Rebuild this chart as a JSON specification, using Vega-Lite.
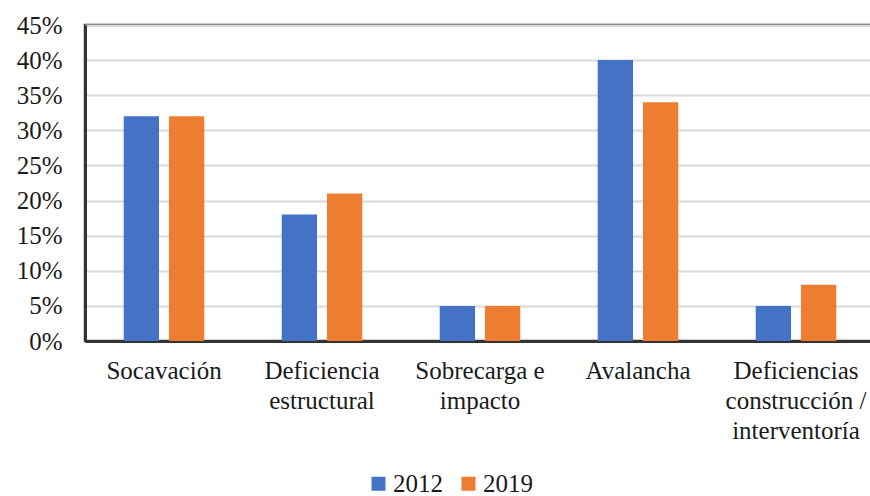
{
  "$schema": "https://vega.github.io/schema/vega-lite/v6.json",
  "autosize": {"type": "none"},
  "padding": {"left": 85, "top": 25, "right": 0, "bottom": 155},
  "width": 790,
  "height": 316,
  "background": "white",
  "config": {
    "font": "Liberation Serif, Times New Roman, serif",
    "view": {"stroke": "#404040", "strokeWidth": 2.5},
    "axis": {"labelFont": "Liberation Serif, Times New Roman, serif", "labelColor": "#1a1a1a"},
    "legend": {"labelFont": "Liberation Serif, Times New Roman, serif"}
  },
  "data": {
    "values": [
      {"causa": "Socavación", "anio": "2012", "valor": 0.32},
      {"causa": "Socavación", "anio": "2019", "valor": 0.32},
      {"causa": "Deficiencia estructural", "anio": "2012", "valor": 0.18},
      {"causa": "Deficiencia estructural", "anio": "2019", "valor": 0.21},
      {"causa": "Sobrecarga e impacto", "anio": "2012", "valor": 0.05},
      {"causa": "Sobrecarga e impacto", "anio": "2019", "valor": 0.05},
      {"causa": "Avalancha", "anio": "2012", "valor": 0.40},
      {"causa": "Avalancha", "anio": "2019", "valor": 0.34},
      {"causa": "Deficiencias construcción / interventoría", "anio": "2012", "valor": 0.05},
      {"causa": "Deficiencias construcción / interventoría", "anio": "2019", "valor": 0.08}
    ]
  },
  "mark": {"type": "bar"},
  "encoding": {
    "x": {
      "field": "causa",
      "type": "nominal",
      "sort": null,
      "scale": {"paddingInner": 0.49, "paddingOuter": 0.245},
      "axis": {
        "title": null,
        "labelAngle": 0,
        "labelFontSize": 25,
        "labelLineHeight": 30,
        "labelPadding": 17,
        "labelLimit": 0,
        "ticks": false,
        "domainColor": "#333333",
        "domainWidth": 3,
        "labelExpr": "datum.value == 'Deficiencia estructural' ? ['Deficiencia', 'estructural'] : datum.value == 'Sobrecarga e impacto' ? ['Sobrecarga e', 'impacto'] : datum.value == 'Deficiencias construcción / interventoría' ? ['Deficiencias', 'construcción /', 'interventoría'] : datum.value"
      }
    },
    "xOffset": {
      "field": "anio",
      "type": "nominal",
      "scale": {"paddingInner": 0.22, "paddingOuter": 0}
    },
    "y": {
      "field": "valor",
      "type": "quantitative",
      "scale": {"domain": [0, 0.45], "nice": false},
      "axis": {
        "title": null,
        "format": ".0%",
        "values": [0, 0.05, 0.1, 0.15, 0.2, 0.25, 0.3, 0.35, 0.4, 0.45],
        "labelFontSize": 25,
        "labelPadding": 23,
        "ticks": false,
        "domainColor": "#333333",
        "domainWidth": 3,
        "gridColor": "#d9d9d9",
        "gridWidth": 2
      }
    },
    "color": {
      "field": "anio",
      "type": "nominal",
      "scale": {"domain": ["2012", "2019"], "range": ["#4472c4", "#ed7d31"]},
      "legend": {
        "title": null,
        "orient": "none",
        "direction": "horizontal",
        "legendX": 281,
        "legendY": 446,
        "symbolType": "square",
        "symbolSize": 196,
        "symbolStrokeWidth": 0,
        "labelFontSize": 25,
        "labelColor": "#1a1a1a",
        "labelOffset": 2,
        "columnPadding": 13
      }
    }
  }
}
